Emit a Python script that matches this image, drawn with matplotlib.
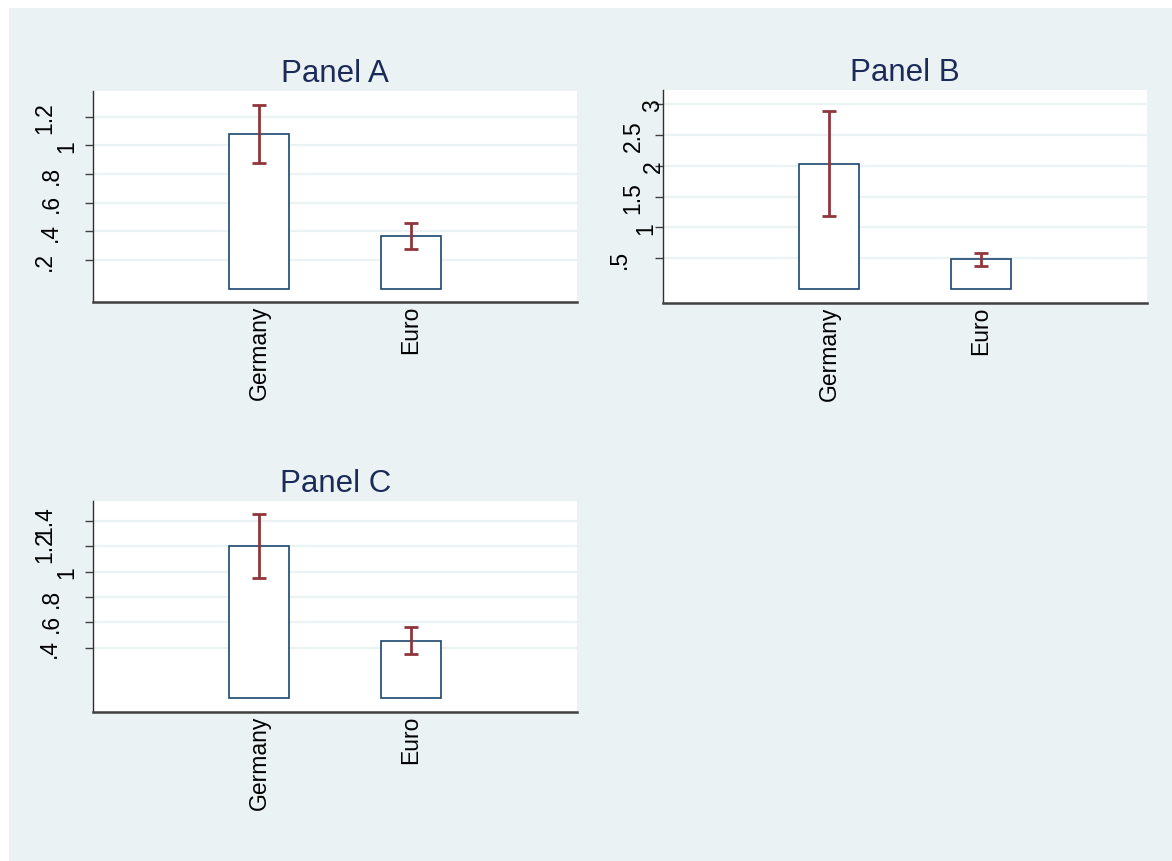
import numpy as np
import matplotlib
matplotlib.use('Agg')
import matplotlib.pyplot as plt
from matplotlib.patches import Rectangle
from matplotlib.transforms import ScaledTranslation

plt.rcParams['font.family'] = ['Liberation Sans', 'DejaVu Sans']

W, H, DPI = 1172, 862, 100

groups = ['Germany', 'Euro']
panel_titles = ['Panel A', 'Panel B', 'Panel C']

# bar means and CI ends
mean_a = [1.077, 0.370]
upper_a = [1.284, 0.458]
lower_a = [0.875, 0.279]

mean_b = [2.036, 0.484]
upper_b = [2.886, 0.591]
lower_b = [1.192, 0.380]

mean_c = [1.203, 0.453]
upper_c = [1.456, 0.563]
lower_c = [0.948, 0.352]

ticks_a = [0.2, 0.4, 0.6, 0.8, 1.0, 1.2]
labels_a = ['.2', '.4', '.6', '.8', '1', '1.2']
ticks_b = [0.5, 1.0, 1.5, 2.0, 2.5, 3.0]
labels_b = ['.5', '1', '1.5', '2', '2.5', '3']
ticks_c = [0.4, 0.6, 0.8, 1.0, 1.2, 1.4]
labels_c = ['.4', '.6', '.8', '1', '1.2', '1.4']

BG = '#eaf2f3'
BAR_EDGE = '#1a476f'
ERR = '#90353b'
TITLE = '#1c2a5a'

fig = plt.figure(figsize=(W / DPI, H / DPI), dpi=DPI)
fig.patch.set_facecolor('white')
fig.add_artist(Rectangle((9 / W, 0), 1 - 9 / W, 1 - 9 / H, transform=fig.transFigure,
                         facecolor=BG, edgecolor='none', zorder=-10))


def px_axes(left, top, right, bottom):
    return fig.add_axes([left / W, 1 - bottom / H, (right - left) / W, (bottom - top) / H])


panels = [
    # box in pixels, data, ylim, label x offsets (px from axis)
    ((93.3, 92.3, 577, 303), mean_a, lower_a, upper_a, ticks_a, labels_a,
     (-0.093, 1.378), [-49, -43, -42, -42, -26, -48]),
    ((663.3, 91, 1146.7, 304), mean_b, lower_b, upper_b, ticks_b, labels_b,
     (-0.226, 3.232), [-44, -17, -30, -10, -30, -10]),
    ((93.3, 501.7, 577, 713.3), mean_c, lower_c, upper_c, ticks_c, labels_c,
     (-0.111, 1.561), [-44, -42, -42, -26, -48, -48]),
]

xpos = np.array([1, 2])

for title, (box, mean, lo, hi, ticks, labels, ylim, dxs) in zip(panel_titles, panels):
    ax = px_axes(*box)
    ax.set_facecolor('white')
    mean = np.array(mean)
    err = [mean - np.array(lo), np.array(hi) - mean]

    ax.bar(xpos, mean, width=0.396, color='white', edgecolor=BAR_EDGE, linewidth=1.2, zorder=3)
    ax.errorbar(xpos, mean, yerr=err, fmt='none', ecolor=ERR, elinewidth=2.0,
                capsize=5.0, capthick=2.0, zorder=4)

    ax.set_xlim(-0.096, 3.095)
    ax.set_ylim(*ylim)

    ax.set_yticks(ticks)
    ax.set_yticklabels(labels, rotation=90, fontsize=16.5, ha='center', va='center')
    ax.tick_params(axis='y', length=6, width=1.0, color='#404040', pad=0)
    for lbl, dx in zip(ax.get_yticklabels(), dxs):
        lbl.set_transform(lbl.get_transform() + ScaledTranslation((dx + 8) / DPI, 0, fig.dpi_scale_trans))

    ax.set_xticks(xpos)
    ax.set_xticklabels(groups, rotation=90, fontsize=16.5, ha='center', va='top')
    ax.tick_params(axis='x', length=0, pad=2)

    ax.yaxis.grid(True, color=BG, linewidth=1.6)
    ax.set_axisbelow(True)

    for s in ['top', 'right']:
        ax.spines[s].set_visible(False)
    ax.spines['left'].set_color('#303030')
    ax.spines['left'].set_linewidth(1.0)
    ax.spines['bottom'].set_color('#404040')
    ax.spines['bottom'].set_linewidth(1.8)

    ax.text(0.5, 1 + 10 / (box[3] - box[1]), title, transform=ax.transAxes,
            ha='center', va='baseline', fontsize=22.5, color=TITLE)

fig.savefig('out.png', dpi=DPI, facecolor=fig.get_facecolor())
